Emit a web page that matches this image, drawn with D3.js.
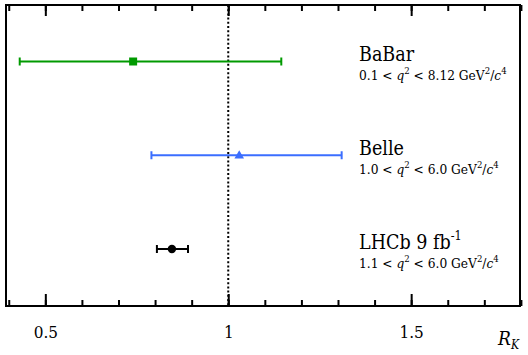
<!DOCTYPE html>
<html>
<head>
<meta charset="utf-8">
<script src="https://cdn.jsdelivr.net/npm/d3@7"></script>
<style>
  body { margin: 0; background: #fff; }
</style>
</head>
<body>
<div id="chart"></div>
<script>
// measurements, top to bottom
var experiments = ["BaBar", "Belle", "LHCb"];
var titles = ["BaBar", "Belle", "LHCb 9 fb"];
var titleSup = ["", "", "-1"];
var qLow = ["0.1", "1.0", "1.1"];
var qHigh = ["8.12", "6.0", "6.0"];
var central = [0.74, 1.03, 0.846];
var errLow = [0.31, 0.24, 0.041];
var errHigh = [0.405, 0.28, 0.044];
var colors = ["#009a00", "#3b6eff", "#000000"];
var markers = ["square", "triangle", "circle"];
var majorTicks = [0.5, 1, 1.5];
var minorTicks = [0.4, 0.5, 0.6, 0.7, 0.8, 0.9, 1.0, 1.1, 1.2, 1.3, 1.4, 1.5, 1.6, 1.7, 1.8];
var refValue = 1;

var serif = "'DejaVu Serif Condensed', 'DejaVu Serif', serif";

function init() {
    var w = 528, h = 355;
    var left = 6, right = 520, top = 5, bottom = 306;

    var svg = d3.select("#chart")
        .append("svg")
        .attr("width", w)
        .attr("height", h);

    var x = d3.scaleLinear()
        .domain([0.3925, 1.7975])
        .range([left, right]);

    var y = d3.scalePoint()
        .domain(experiments)
        .range([61.5, 249]);

    // minor ticks bottom and top
    svg.append("g")
        .attr("transform", "translate(0," + bottom + ")")
        .call(d3.axisBottom(x).tickValues(minorTicks).tickSize(-6).tickFormat(""))
        .call(function(g) { g.select(".domain").remove(); })
        .selectAll("line").attr("stroke-width", 2);
    svg.append("g")
        .attr("transform", "translate(0," + top + ")")
        .call(d3.axisTop(x).tickValues(minorTicks).tickSize(-6).tickFormat(""))
        .call(function(g) { g.select(".domain").remove(); })
        .selectAll("line").attr("stroke-width", 2);

    // major ticks with labels
    var xb = svg.append("g")
        .attr("transform", "translate(0," + bottom + ")")
        .call(d3.axisBottom(x).tickValues(majorTicks).tickSize(-12).tickPadding(20)
            .tickFormat(function(d) { return d === 1 ? "1" : d3.format(".1f")(d); }));
    xb.select(".domain").remove();
    xb.selectAll("line").attr("stroke-width", 2);
    xb.selectAll("text")
        .attr("font-size", 17)
        .attr("fill", "#000");
    var xt = svg.append("g")
        .attr("transform", "translate(0," + top + ")")
        .call(d3.axisTop(x).tickValues(majorTicks).tickSize(-11).tickFormat(""));
    xt.select(".domain").remove();
    xt.selectAll("line").attr("stroke-width", 2);

    // reference line at R_K = 1
    svg.append("line")
        .attr("x1", x(refValue)).attr("x2", x(refValue))
        .attr("y1", top).attr("y2", bottom)
        .attr("stroke", "#000")
        .attr("stroke-width", 2)
        .attr("stroke-dasharray", "2,2.2");

    // frame
    svg.append("rect")
        .attr("x", left).attr("y", top)
        .attr("width", right - left).attr("height", bottom - top)
        .attr("fill", "none")
        .attr("stroke", "#000")
        .attr("stroke-width", 2);

    // error bars
    var pts = svg.selectAll("g.pt")
        .data(experiments)
        .enter()
        .append("g")
        .attr("class", "pt");

    pts.append("line")
        .attr("x1", function(d, i) { return x(central[i] - errLow[i]); })
        .attr("x2", function(d, i) { return x(central[i] + errHigh[i]); })
        .attr("y1", function(d) { return y(d); })
        .attr("y2", function(d) { return y(d); })
        .attr("stroke", function(d, i) { return colors[i]; })
        .attr("stroke-width", 2);

    [errLow, errHigh].forEach(function(arr, k) {
        pts.append("line")
            .attr("x1", function(d, i) { return x(central[i] + (k ? arr[i] : -arr[i])); })
            .attr("x2", function(d, i) { return x(central[i] + (k ? arr[i] : -arr[i])); })
            .attr("y1", function(d) { return y(d) - 4; })
            .attr("y2", function(d) { return y(d) + 4; })
            .attr("stroke", function(d, i) { return colors[i]; })
            .attr("stroke-width", 2);
    });

    var symbolType = { square: d3.symbolSquare, triangle: d3.symbolTriangle, circle: d3.symbolCircle };
    pts.append("path")
        .attr("transform", function(d, i) { return "translate(" + x(central[i]) + "," + (y(d) + (markers[i] === "triangle" ? 0.5 : 0)) + ")"; })
        .attr("d", function(d, i) {
            var size = markers[i] === "square" ? 64 : markers[i] === "triangle" ? 40 : 56;
            return d3.symbol().type(symbolType[markers[i]]).size(size)();
        })
        .attr("fill", function(d, i) { return colors[i]; });

    // labels
    var labels = svg.selectAll("g.lab")
        .data(experiments)
        .enter()
        .append("g")
        .attr("class", "lab")
        .attr("transform", function(d) { return "translate(359," + (y(d) - 0.5) + ")"; });

    var t1 = labels.append("text")
        .attr("font-size", 19.5);
    t1.append("tspan").text(function(d, i) { return titles[i]; });
    t1.append("tspan")
        .attr("font-size", 12.5)
        .attr("dy", -9)
        .text(function(d, i) { return titleSup[i]; });

    var t2 = labels.append("text")
        .attr("y", 19)
        .attr("font-size", 13.6);
    t2.append("tspan").text(function(d, i) { return qLow[i] + " < "; });
    t2.append("tspan").attr("font-style", "italic").text("q");
    t2.append("tspan").attr("font-size", 9.5).attr("dy", -6).text("2");
    t2.append("tspan").attr("dy", 6).text(function(d, i) { return " < " + qHigh[i] + " GeV"; });
    t2.append("tspan").attr("font-size", 9.5).attr("dy", -6).text("2");
    t2.append("tspan").attr("dy", 6).text("/");
    t2.append("tspan").attr("font-style", "italic").text("c");
    t2.append("tspan").attr("font-size", 9.5).attr("dy", -6).text("4");

    // axis title
    var ax = svg.append("text")
        .attr("x", 519)
        .attr("y", 345)
        .attr("text-anchor", "end")
        .attr("font-size", 19)
        .attr("font-style", "italic");
    ax.append("tspan").text("R");
    ax.append("tspan").attr("font-size", 12).attr("dy", 4).text("K");

    svg.selectAll("text").style("font-family", serif);
    svg.selectAll("g").attr("font-family", serif);
}

window.onload = init;
</script>
</body>
</html>
